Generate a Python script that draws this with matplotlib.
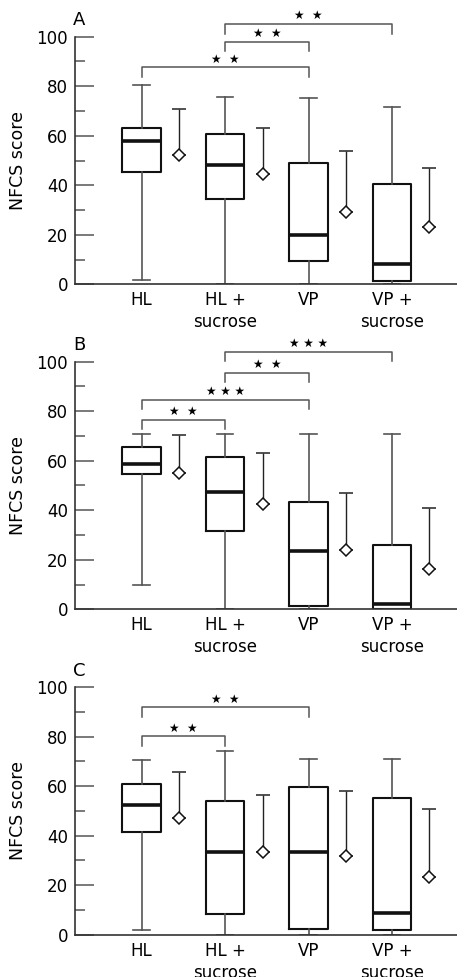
import matplotlib
matplotlib.use("Agg")
import matplotlib.pyplot as plt
from matplotlib.ticker import MultipleLocator

plt.rcParams['font.family'] = ['DejaVu Sans']

categories = ['HL', 'HL +\nsucrose', 'VP', 'VP +\nsucrose']
panel_labels = ['A', 'B', 'C']

# Panel A
A_whislo = [1.6, 0, 0, 0]
A_q1 = [45.5, 34.3, 9.5, 1.5]
A_med = [58.0, 48.2, 19.9, 8.3]
A_q3 = [63.2, 60.7, 49.0, 40.4]
A_whishi = [80.5, 75.8, 75.1, 71.5]
A_mean = [52.2, 44.5, 29.1, 23.0]
A_sd = [18.8, 18.5, 24.7, 24.1]
A_pairs = [(1, 3), (2, 3), (2, 4)]
A_sig = ['★  ★', '★  ★', '★  ★']
A_bracket = [87.6, 98.0, 105.1]

# Panel B
B_whislo = [9.7, 0, 0, 0]
B_q1 = [54.5, 31.6, 1.5, 0]
B_med = [58.6, 47.2, 23.6, 2.3]
B_q3 = [65.7, 61.3, 43.2, 25.8]
B_whishi = [70.9, 70.9, 70.9, 70.9]
B_mean = [54.9, 42.5, 23.9, 16.1]
B_sd = [15.4, 20.8, 22.9, 24.8]
B_pairs = [(1, 2), (1, 3), (2, 3), (2, 4)]
B_sig = ['★  ★', '★ ★ ★', '★  ★', '★ ★ ★']
B_bracket = [76.5, 84.5, 95.4, 104.0]

# Panel C
C_whislo = [2.0, 0, 0, 0]
C_q1 = [41.3, 8.3, 2.4, 1.7]
C_med = [52.3, 33.3, 33.3, 8.7]
C_q3 = [61.0, 54.2, 59.7, 55.4]
C_whishi = [70.6, 74.1, 71.1, 70.8]
C_mean = [47.2, 33.5, 31.9, 23.4]
C_sd = [18.5, 23.1, 26.2, 27.3]
C_pairs = [(1, 2), (1, 3)]
C_sig = ['★  ★', '★  ★']
C_bracket = [80.2, 91.9]

panels = [
    (A_whislo, A_q1, A_med, A_q3, A_whishi, A_mean, A_sd, A_pairs, A_sig, A_bracket),
    (B_whislo, B_q1, B_med, B_q3, B_whishi, B_mean, B_sd, B_pairs, B_sig, B_bracket),
    (C_whislo, C_q1, C_med, C_q3, C_whishi, C_mean, C_sd, C_pairs, C_sig, C_bracket),
]

fig = plt.figure(figsize=(4.57, 9.77), dpi=100)
bottoms = [0.709, 0.3764, 0.0433]
GREY = '#555555'

for (whislo, q1, med, q3, whishi, mean, sd, pairs, sig, bracket), bot, lab in zip(panels, bottoms, panel_labels):
    ax = fig.add_axes([0.164, bot, 0.836, 0.2534])
    pos = list(range(1, len(categories) + 1))
    stats = [dict(med=m, q1=a, q3=b, whislo=lo, whishi=hi, fliers=[])
             for m, a, b, lo, hi in zip(med, q1, q3, whislo, whishi)]
    ax.bxp(stats, positions=pos, widths=0.46, showfliers=False,
           boxprops=dict(color='#111111', linewidth=1.5),
           medianprops=dict(color='#111111', linewidth=2.6),
           whiskerprops=dict(color=GREY, linewidth=1.2),
           capprops=dict(color=GREY, linewidth=1.2),
           capwidths=0.2)
    mpos = [p + 0.45 for p in pos]
    ax.errorbar(mpos, mean, yerr=[[0] * len(sd), sd], fmt='D', ms=6.5,
                mfc='white', mec='#111111', mew=1.1, ecolor='#222222',
                elinewidth=1.0, capsize=4.7, capthick=1.0, zorder=3)
    stub = 3.8
    for (i, j), s, yb in zip(pairs, sig, bracket):
        ax.plot([i, i, j, j], [yb - stub, yb, yb, yb - stub], color=GREY,
                lw=1.1, clip_on=False)
        ax.text((i + j) / 2, yb + 3.3, s, ha='center', va='center',
                fontsize=8.5, color='black', clip_on=False)

    ax.set_xlim(0.2, 4.78)
    ax.set_ylim(0, 100)
    ax.yaxis.set_major_locator(MultipleLocator(20))
    ax.yaxis.set_minor_locator(MultipleLocator(10))
    ax.tick_params(axis='y', which='major', direction='in', length=14,
                   width=1.1, color=GREY, labelsize=12, pad=5)
    ax.tick_params(axis='y', which='minor', direction='in', length=7,
                   width=1.1, color=GREY)
    ax.set_xticks(pos)
    ax.set_xticklabels(categories, fontsize=12, linespacing=1.3)
    ax.tick_params(axis='x', length=0, pad=5)
    for sp in ['top', 'right']:
        ax.spines[sp].set_visible(False)
    for sp in ['left', 'bottom']:
        ax.spines[sp].set_color('#333333')
        ax.spines[sp].set_linewidth(1.2)
    ax.set_ylabel('NFCS score', fontsize=12.5, labelpad=6)
    ax.yaxis.set_label_coords(-0.125, 0.5)
    ax.text(-0.005, 1.03, lab, transform=ax.transAxes, ha='left',
            va='bottom', fontsize=13)

fig.savefig('out.png', dpi=100)
